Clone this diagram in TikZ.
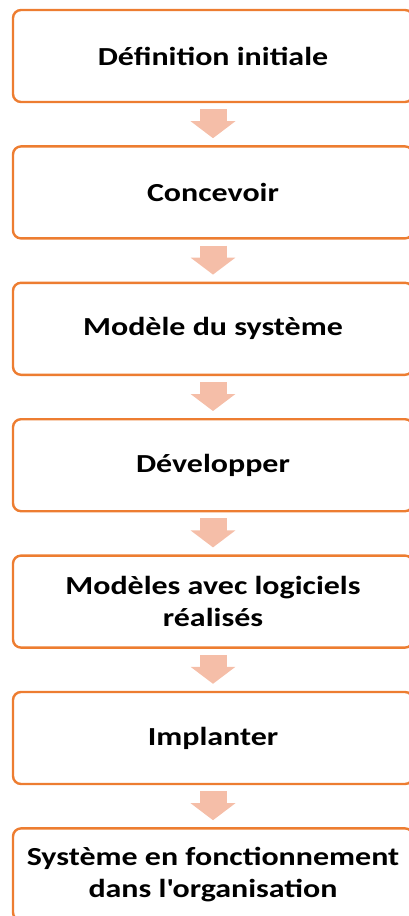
\documentclass[tikz,border=0pt]{standalone}
\usepackage{fontspec}
\setmainfont{Carlito}[FakeStretch=1.23]
\usetikzlibrary{positioning,arrows.meta}
\definecolor{boxorange}{RGB}{237,125,49}
\definecolor{arrowpink}{RGB}{245,190,168}

\begin{document}
\begin{tikzpicture}[x=1pt,y=1pt,node distance=42pt,
	every node/.style={draw=boxorange,line width=2.4pt,rounded corners=8pt,fill=white,minimum width=400pt,minimum height=92pt,align=center,inner sep=0pt,font=\bfseries\fontsize{26}{32}\selectfont}]
	\useasboundingbox (0,0) rectangle (408,-916);
	\node (definition) at (213,-56) {Définition initiale};
	\node [below=of definition] (concevoir) {Concevoir};
	\node [below=of concevoir] (modele) {Modèle du système};
	\node [below=of modele] (developper) {Développer};
	\node [below=of developper] (realises) {Modèles avec logiciels\\réalisés};
	\node [below=of realises] (implanter) {Implanter};
	\node [below=of implanter] (systeme) {Système en fonctionnement\\dans l\textquotesingle organisation};
	\path [color=arrowpink,line width=27pt,-{Triangle[width=44pt,length=17pt]},shorten <=6pt,shorten >=7pt]
	(definition) edge (concevoir)
	(concevoir) edge (modele)
	(modele) edge (developper)
	(developper) edge (realises)
	(realises) edge (implanter)
	(implanter) edge (systeme);
\end{tikzpicture}
\end{document}
